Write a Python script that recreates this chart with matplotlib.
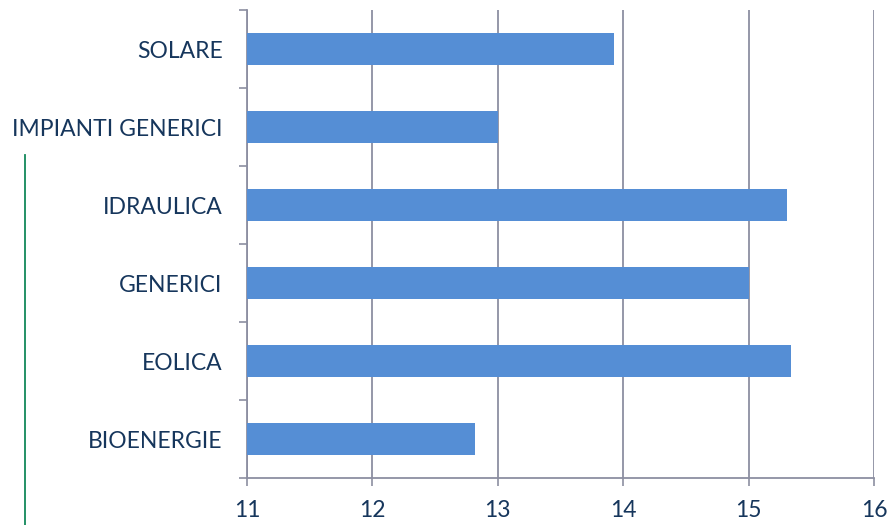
import matplotlib
matplotlib.use("Agg")
import matplotlib.pyplot as plt
from matplotlib.lines import Line2D
import numpy as np

categories = ["BIOENERGIE", "EOLICA", "GENERICI", "IDRAULICA", "IMPIANTI GENERICI", "SOLARE"]
values = [12.82, 15.34, 15.0, 15.31, 13.0, 13.93]
xticks = [11, 12, 13, 14, 15, 16]

text_color = "#16365C"
grid_color = "#8C8FA1"
bar_color = "#558ED5"

plt.rcParams['font.family'] = ['Lato', 'DejaVu Sans']

fig = plt.figure(figsize=(8.89, 5.25), dpi=100)
ax = fig.add_axes([247/889, 1-478/525, (874-247)/889, (478-10)/525])

y = np.arange(len(categories))
ax.barh(y, [v - 11 for v in values], left=11, height=0.4, color=bar_color, zorder=3)

ax.set_xlim(11, 16)
ax.set_ylim(-0.5, len(categories) - 0.5)
ax.set_xticks(xticks)
ax.set_xticklabels([str(t) for t in xticks])
ax.set_yticks(y)
ax.set_yticklabels(categories)
ax.set_yticks(np.arange(-0.5, len(categories), 1.0), minor=True)

ax.tick_params(axis='y', which='major', length=0, pad=17.5, labelsize=16.5, labelcolor=text_color)
ax.tick_params(axis='y', which='minor', length=6, width=1.2, color=grid_color, direction='out')
ax.tick_params(axis='x', which='major', length=6, width=1.2, color=grid_color, direction='out', pad=10, labelsize=16.5, labelcolor=text_color)

ax.grid(axis='x', color=grid_color, linewidth=1.3, zorder=0)
ax.set_axisbelow(True)
for s in ['top', 'right']:
    ax.spines[s].set_visible(False)
for s in ['left', 'bottom']:
    ax.spines[s].set_color(grid_color)
    ax.spines[s].set_linewidth(1.3)

fig.add_artist(Line2D([25/889, 25/889], [0, 1-155/525], transform=fig.transFigure, color="#12885A", linewidth=1.3))

fig.savefig("out.png", dpi=100)
